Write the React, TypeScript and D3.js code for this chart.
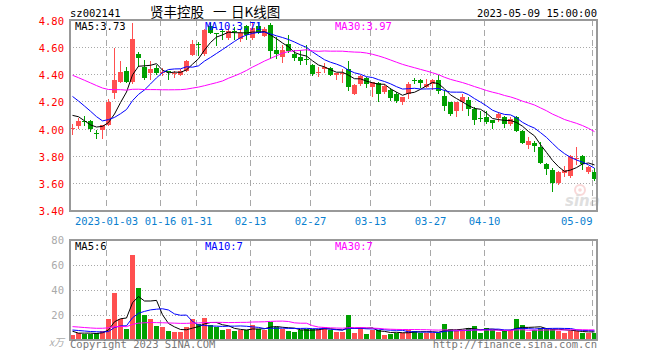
import React from "react";
import * as d3 from "d3";

// trading sessions shown on the chart
const tradeDates = [
  "2022-12-23", "2022-12-26", "2022-12-27", "2022-12-28", "2022-12-29", "2022-12-30",
  "2023-01-03", "2023-01-04", "2023-01-05", "2023-01-06", "2023-01-09", "2023-01-10",
  "2023-01-11", "2023-01-12", "2023-01-13", "2023-01-16", "2023-01-17", "2023-01-18",
  "2023-01-19", "2023-01-20", "2023-01-30", "2023-01-31", "2023-02-01", "2023-02-02",
  "2023-02-03", "2023-02-06", "2023-02-07", "2023-02-08", "2023-02-09", "2023-02-10",
  "2023-02-13", "2023-02-14", "2023-02-15", "2023-02-16", "2023-02-17", "2023-02-20",
  "2023-02-21", "2023-02-22", "2023-02-23", "2023-02-24", "2023-02-27", "2023-02-28",
  "2023-03-01", "2023-03-02", "2023-03-03", "2023-03-06", "2023-03-07", "2023-03-08",
  "2023-03-09", "2023-03-10", "2023-03-13", "2023-03-14", "2023-03-15", "2023-03-16",
  "2023-03-17", "2023-03-20", "2023-03-21", "2023-03-22", "2023-03-23", "2023-03-24",
  "2023-03-27", "2023-03-28", "2023-03-29", "2023-03-30", "2023-03-31", "2023-04-03",
  "2023-04-04", "2023-04-06", "2023-04-07", "2023-04-10", "2023-04-11", "2023-04-12",
  "2023-04-13", "2023-04-14", "2023-04-17", "2023-04-18", "2023-04-19", "2023-04-20",
  "2023-04-21", "2023-04-24", "2023-04-25", "2023-04-26", "2023-04-27", "2023-04-28",
  "2023-05-04", "2023-05-05", "2023-05-08", "2023-05-09",
];

const openPrices = [
  4.00, 4.02, 4.06, 4.06, 3.97, 3.99, 4.03, 4.27, 4.35, 4.43,
  4.34, 4.55, 4.46, 4.41, 4.45, 4.41, 4.425, 4.40, 4.40, 4.43,
  4.55, 4.63, 4.55, 4.76, 4.705, 4.72, 4.665, 4.72, 4.665, 4.76,
  4.67, 4.76, 4.69, 4.77, 4.585, 4.53, 4.63, 4.555, 4.53, 4.515,
  4.475, 4.415, 4.44, 4.45, 4.40, 4.405, 4.44, 4.26, 4.33, 4.375,
  4.31, 4.34, 4.275, 4.285, 4.26, 4.20, 4.26, 4.36, 4.36, 4.31,
  4.33, 4.365, 4.245, 4.20, 4.135, 4.20, 4.215, 4.145, 4.085, 4.09,
  4.065, 4.08, 4.09, 4.035, 4.09, 3.985, 3.885, 3.90, 3.87, 3.74,
  3.70, 3.605, 3.68, 3.65, 3.78, 3.80, 3.685, 3.685,
];
const highPrices = [
  4.04, 4.08, 4.10, 4.065, 3.99, 4.03, 4.22, 4.60, 4.50, 4.46,
  4.78, 4.57, 4.51, 4.50, 4.475, 4.45, 4.43, 4.43, 4.44, 4.51,
  4.66, 4.64, 4.74, 4.78, 4.71, 4.74, 4.76, 4.75, 4.73, 4.77,
  4.78, 4.79, 4.75, 4.78, 4.68, 4.62, 4.69, 4.58, 4.58, 4.62,
  4.48, 4.455, 4.49, 4.46, 4.415, 4.44, 4.50, 4.33, 4.40, 4.385,
  4.35, 4.345, 4.33, 4.30, 4.27, 4.24, 4.35, 4.38, 4.37, 4.37,
  4.37, 4.40, 4.29, 4.20, 4.20, 4.26, 4.24, 4.16, 4.13, 4.13,
  4.07, 4.125, 4.10, 4.09, 4.10, 3.99, 3.945, 3.91, 3.905, 3.75,
  3.71, 3.69, 3.73, 3.81, 3.865, 3.81, 3.73, 3.71,
];
const lowPrices = [
  3.955, 4.00, 4.025, 3.98, 3.93, 3.93, 4.02, 4.22, 4.34, 4.34,
  4.33, 4.46, 4.365, 4.365, 4.40, 4.39, 4.365, 4.38, 4.39, 4.42,
  4.54, 4.54, 4.54, 4.70, 4.61, 4.66, 4.66, 4.66, 4.64, 4.66,
  4.66, 4.70, 4.68, 4.52, 4.52, 4.49, 4.56, 4.50, 4.47, 4.47,
  4.39, 4.385, 4.41, 4.39, 4.36, 4.34, 4.28, 4.25, 4.32, 4.30,
  4.24, 4.20, 4.26, 4.21, 4.19, 4.18, 4.22, 4.33, 4.30, 4.30,
  4.29, 4.26, 4.13, 4.10, 4.09, 4.13, 4.10, 4.03, 4.05, 4.04,
  4.00, 4.05, 4.01, 4.02, 3.98, 3.89, 3.85, 3.83, 3.74, 3.66,
  3.54, 3.59, 3.65, 3.64, 3.735, 3.70, 3.67, 3.62,
];
const closePrices = [
  4.005, 4.06, 4.05, 4.00, 3.96, 4.03, 4.20, 4.365, 4.42, 4.35,
  4.66, 4.52, 4.38, 4.44, 4.41, 4.42, 4.42, 4.41, 4.43, 4.50,
  4.63, 4.62, 4.73, 4.71, 4.70, 4.71, 4.72, 4.71, 4.71, 4.69,
  4.745, 4.71, 4.74, 4.58, 4.555, 4.585, 4.575, 4.525, 4.50, 4.505,
  4.41, 4.42, 4.455, 4.395, 4.415, 4.41, 4.31, 4.325, 4.39, 4.33,
  4.35, 4.26, 4.32, 4.225, 4.205, 4.235, 4.335, 4.355, 4.335, 4.335,
  4.36, 4.285, 4.17, 4.11, 4.20, 4.235, 4.15, 4.065, 4.08, 4.055,
  4.04, 4.11, 4.035, 4.075, 3.985, 3.90, 3.915, 3.875, 3.75, 3.70,
  3.605, 3.685, 3.70, 3.80, 3.79, 3.74, 3.72, 3.63,
];
// volume, 10k shares
const volumes = [
  4, 6, 5, 5, 6, 7, 17, 38, 17, 9,
  68, 42, 20, 17, 11.5, 10.5, 7, 6.5, 6.5, 10.5,
  17, 13, 17.5, 12, 10.5, 8, 9, 7, 8, 8,
  12, 9, 8, 14.5, 10.5, 9, 7, 6.5, 8, 9,
  9, 8.5, 10.5, 8, 6.5, 6.5, 20, 6, 9.5, 5,
  8, 8, 4, 5, 6, 6, 8, 7, 6, 6,
  6, 6, 13, 9, 7, 8, 9.5, 11, 5.5, 9.5,
  8, 6.5, 7, 8, 17, 12, 6.5, 8, 9.5, 9.5,
  9, 7, 6, 7.5, 7.5, 6, 5.5, 6,
];

// earlier sessions, not drawn, only feed the moving averages
const priorCloses = [
  4.60, 4.62, 4.58, 4.55, 4.57, 4.53,
  4.40, 4.42, 4.45, 4.48, 4.50, 4.46, 4.44, 4.42, 4.45, 4.43, 4.40, 4.41, 4.38, 4.40,
  4.40, 4.42, 4.38, 4.36, 4.34,
  4.11, 4.20, 4.15, 4.04,
];
const priorVolumes = [
  16, 17, 15, 14,
  6, 7, 10, 12, 14, 13, 12, 11, 12, 13, 14, 12, 11, 12, 10, 10,
  10, 9, 9, 8, 9,
  13.5, 5, 5, 7.5,
];

const tickDates = ["2023-01-03", "2023-01-16", "2023-01-31", "2023-02-13", "2023-02-27", "2023-03-13", "2023-03-27", "2023-04-10", "2023-05-09"];
const tickLabels = ["2023-01-03", "01-16", "01-31", "02-13", "02-27", "03-13", "03-27", "04-10", "05-09"];
const priceTicks = [3.4, 3.6, 3.8, 4.0, 4.2, 4.4, 4.6, 4.8];
const volumeTicks = [20, 40, 60, 80];

const maPeriods = [5, 10, 30];
const maColors = ["#000000", "#0000ff", "#ff00ff"];
const priceMaLabels = ["MA5:3.73", "MA10:3.71", "MA30:3.97"];
const volumeMaLabels = ["MA5:6", "MA10:7", "MA30:7"];

const W = 660;
const H = 360;
const left = 70;
const right = 597;
const priceTop = 20;
const priceBottom = 211;
const volTop = 240;
const volBottom = 340;
const UP = "#ff5050";
const DOWN = "#00a000";
const GRID = "#a8a8a8";
const MONO = "'DejaVu Sans Mono', monospace";
const CJK = "'Noto Sans CJK SC', sans-serif";

function movingAverage(prior: number[], values: number[], n: number) {
  const all = prior.concat(values);
  return values.map((_, i) => {
    const end = prior.length + i;
    return d3.mean(all.slice(end - n + 1, end + 1)) as number;
  });
}

export default function App() {
  const n = closePrices.length;
  const x = d3.scaleLinear().domain([0, n - 1]).range([72.5, 72.5 + 6 * (n - 1)]);
  const y = d3.scaleLinear().domain([3.4, 4.8]).range([210.5, 20.5]);
  const yv = d3.scaleLinear().domain([0, 80]).range([volBottom, volTop]);

  const priceMas = maPeriods.map((p) => movingAverage(priorCloses, closePrices, p));
  const volMas = maPeriods.map((p) => movingAverage(priorVolumes, volumes, p));

  const line = (sy: d3.ScaleLinear<number, number>) =>
    d3
      .line<number>()
      .x((_, i) => x(i))
      .y((d) => sy(d));

  const tickX = tickDates.map((d) => Math.round(x(tradeDates.indexOf(d)) - 2.5) + 0.5);
  const crisp = (v: number) => Math.round(v - 0.5) + 0.5;

  return (
    <svg
      width={W}
      height={H}
      style={{ position: "absolute", left: 0, top: 0, background: "#fff" }}
      fontFamily={MONO}
    >
      {/* header */}
      <text x={70} y={16.5} fontSize={10.5} fill="#000">sz002141</text>
      <g fontFamily={CJK} fontSize={13.5} fill="#000">
        <text x={150} y={17}>贤丰控股</text>
        <text x={213} y={17}>一</text>
        <text x={231} y={17}>日K线图</text>
      </g>
      <text x={597} y={16.5} fontSize={10.5} fill="#000" textAnchor="end">2023-05-09 15:00:00</text>

      {/* price grid */}
      {priceTicks.slice(1, -1).map((t) => (
        <line key={`pg${t}`} x1={left} x2={right} y1={crisp(y(t))} y2={crisp(y(t))}
          stroke={GRID} strokeDasharray="1,2" shapeRendering="crispEdges" />
      ))}
      {tickX.map((tx, k) => (
        <line key={`pv${k}`} x1={tx} x2={tx} y1={priceTop} y2={priceBottom}
          stroke={GRID} strokeDasharray="6,4" shapeRendering="crispEdges" />
      ))}
      {priceTicks.map((t) => (
        <text key={`pl${t}`} x={64} y={y(t) + 4.5} fontSize={10.5} fill="#ff0000" textAnchor="end">
          {t.toFixed(2)}
        </text>
      ))}
      {tickX.map((tx, k) => (
        <text key={`xl${k}`} x={k === tickX.length - 1 ? tx : tx} y={225} fontSize={10.5} fill="#0a7fd0"
          textAnchor={k === tickX.length - 1 ? "end" : "middle"}>
          {tickLabels[k]}
        </text>
      ))}

      {/* sina watermark */}
      <g opacity={0.4}>
        <circle cx={580} cy={190} r={5} fill="none" stroke="#f2a0a0" strokeWidth={2} />
        <circle cx={580} cy={190} r={1.8} fill="#f2a0a0" />
        <text x={565} y={206} fontSize={15} fontStyle="italic" fontWeight="bold" fill="#b0b0b0"
          fontFamily="'DejaVu Sans', sans-serif">sina</text>
      </g>

      {/* candles */}
      {closePrices.map((c, i) => {
        const o = openPrices[i];
        const col = c >= o ? UP : DOWN;
        const top = y(Math.max(o, c));
        const h = Math.max(1, Math.abs(y(o) - y(c)));
        return (
          <g key={`c${i}`} shapeRendering="crispEdges">
            <line x1={x(i)} x2={x(i)} y1={y(highPrices[i])} y2={y(lowPrices[i])} stroke={col} />
            <rect x={x(i) - 2.5} y={Math.round(top)} width={5} height={Math.round(h) || 1} fill={col} />
          </g>
        );
      })}

      {/* price moving averages */}
      {priceMas.map((ma, k) => (
        <path key={`pm${k}`} d={line(y)(ma) || ""} fill="none" stroke={maColors[k]} strokeWidth={1} />
      ))}
      {priceMaLabels.map((s, k) => (
        <text key={`pml${k}`} x={75 + 130 * k} y={29.5} fontSize={10.5} fill={maColors[k]}>{s}</text>
      ))}

      {/* price frame */}
      <rect x={left} y={priceTop} width={right - left} height={priceBottom - priceTop}
        fill="none" stroke="#999" strokeWidth={1.5} shapeRendering="crispEdges" />

      {/* volume grid */}
      {volumeTicks.slice(0, -1).map((t) => (
        <line key={`vg${t}`} x1={left} x2={right} y1={crisp(yv(t))} y2={crisp(yv(t))}
          stroke={GRID} strokeDasharray="1,2" shapeRendering="crispEdges" />
      ))}
      {tickX.map((tx, k) => (
        <line key={`vv${k}`} x1={tx} x2={tx} y1={volTop} y2={volBottom}
          stroke={GRID} strokeDasharray="6,4" shapeRendering="crispEdges" />
      ))}
      {volumeTicks.map((t) => (
        <text key={`vl${t}`} x={64} y={yv(t) + 4} fontSize={10.5} fill="#aaa" textAnchor="end">{t}</text>
      ))}
      <text x={49} y={346} fontSize={10} fill="#aaa" fontStyle="italic" fontFamily={CJK}>x万</text>

      {/* volume bars */}
      {volumes.map((v, i) => (
        <rect key={`v${i}`} x={x(i) - 2.5} y={Math.round(yv(v))} width={5}
          height={volBottom - Math.round(yv(v))}
          fill={closePrices[i] >= openPrices[i] ? UP : DOWN} shapeRendering="crispEdges" />
      ))}
      {volMas.map((ma, k) => (
        <path key={`vm${k}`} d={line(yv)(ma) || ""} fill="none" stroke={maColors[k]} strokeWidth={1} />
      ))}
      {volumeMaLabels.map((s, k) => (
        <text key={`vml${k}`} x={75 + 130 * k} y={250} fontSize={10.5} fill={maColors[k]}>{s}</text>
      ))}

      <rect x={left} y={volTop} width={right - left} height={volBottom - volTop}
        fill="none" stroke="#999" strokeWidth={1.5} shapeRendering="crispEdges" />

      {/* footer */}
      <text x={70} y={348} fontSize={10.5} fill="#777">Copyright 2023 SINA.COM</text>
      <text x={597} y={348} fontSize={10.5} fill="#777" textAnchor="end">http://finance.sina.com.cn</text>
    </svg>
  );
}
